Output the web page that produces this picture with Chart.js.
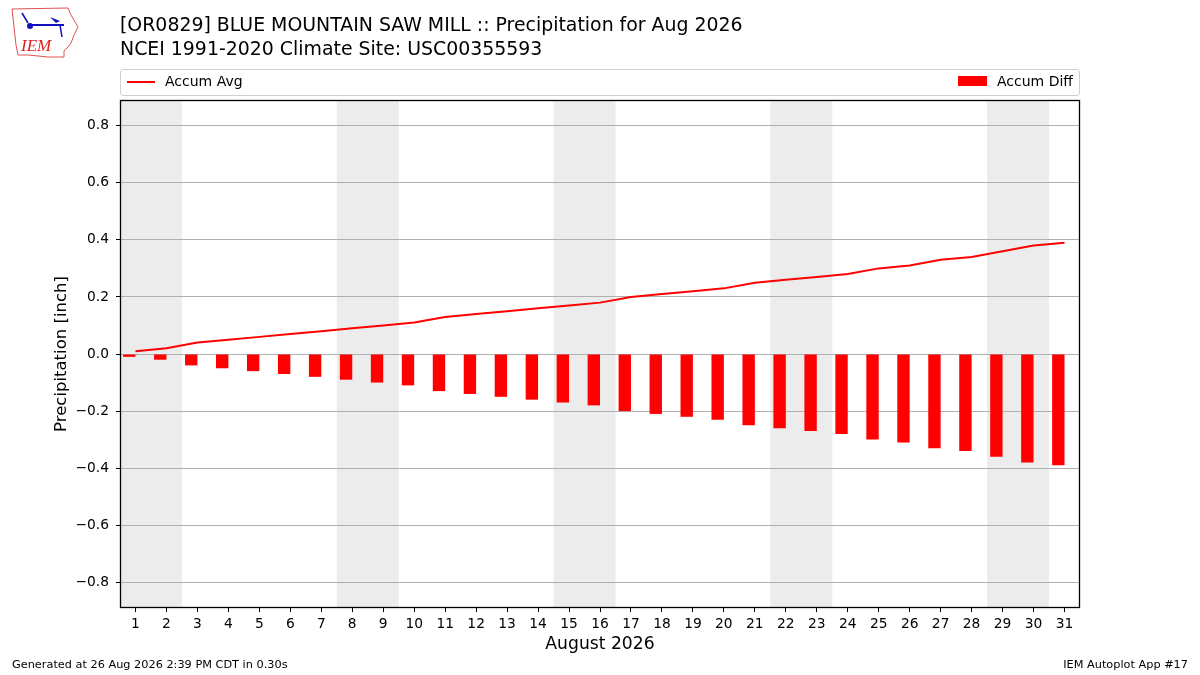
<!DOCTYPE html>
<html>
<head>
<meta charset="utf-8">
<script src="https://cdn.jsdelivr.net/npm/chart.js@4"></script>
<style>
  body { margin: 0; background: #fff; font-family: "DejaVu Sans", sans-serif; }
  #wrap { position: relative; width: 1200px; height: 675px; overflow: hidden; }
  #chart { position: absolute; left: 0; top: 0; }
  .txt { position: absolute; color: #000; white-space: nowrap; }
  #title { left: 120px; top: 12px; font-size: 18.9px; line-height: 24px; }
  #legend { position: absolute; left: 120px; top: 69px; width: 958px; height: 25px;
            border: 1px solid #d0d0d0; border-radius: 3px; font-size: 14px; }
  .foot { font-size: 11.3px; top: 658px; }
</style>
</head>
<body>
<div id="wrap">
  <canvas id="chart" width="1200" height="675"></canvas>
  <svg class="txt" style="left:8px;top:5px" width="72" height="54" viewBox="0 0 72 54">
    <path d="M4 4 L60 3 L63 10 L70 22 L66 30 L63 38 L60 42 L56 46 L56 52 L40 52 L20 50 L10 50 L8 40 L6 22 Z"
          fill="none" stroke="#e05050" stroke-width="1"/>
    <line x1="22" y1="20" x2="56" y2="20" stroke="#1010c0" stroke-width="2"/>
    <circle cx="22" cy="21" r="3" fill="#1010c0"/>
    <path d="M42 12 L52 16 L48 18 Z" fill="#1010c0"/>
    <line x1="52" y1="20" x2="54" y2="32" stroke="#1010c0" stroke-width="1.5"/>
    <path d="M14 8 L20 18" stroke="#1010c0" stroke-width="1.5"/>
    <text x="13" y="46" font-family="Liberation Serif, serif" font-style="italic" font-size="17" fill="#e02020">IEM</text>
  </svg>
  <div id="title" class="txt">[OR0829] BLUE MOUNTAIN SAW MILL :: Precipitation for Aug 2026<br>NCEI 1991-2020 Climate Site: USC00355593</div>
  <div id="legend">
    <div style="position:absolute;left:6px;top:11px;width:28px;height:2px;background:#ff0000"></div>
    <div class="txt" style="left:44px;top:3px">Accum Avg</div>
    <div style="position:absolute;left:837px;top:6px;width:29px;height:10px;background:#ff0000"></div>
    <div class="txt" style="left:876px;top:3px">Accum Diff</div>
  </div>
  <div class="txt foot" style="left:12px">Generated at 26 Aug 2026 2:39 PM CDT in 0.30s</div>
  <div class="txt foot" style="right:12px">IEM Autoplot App #17</div>
</div>
<script>
// days of the month
var days = [];
for (var d = 1; d <= 31; d++) { days.push(d); }
// accumulated climatology average precip (inch)
var accumAvg = [0.01, 0.02, 0.04, 0.05, 0.06, 0.07, 0.08, 0.09, 0.10, 0.11,
                0.13, 0.14, 0.15, 0.16, 0.17, 0.18, 0.20, 0.21, 0.22, 0.23,
                0.25, 0.26, 0.27, 0.28, 0.30, 0.31, 0.33, 0.34, 0.36, 0.38, 0.39];
// accumulated departure (observed - average)
var accumDiff = [-0.01, -0.02, -0.04, -0.05, -0.06, -0.07, -0.08, -0.09, -0.10, -0.11,
                 -0.13, -0.14, -0.15, -0.16, -0.17, -0.18, -0.20, -0.21, -0.22, -0.23,
                 -0.25, -0.26, -0.27, -0.28, -0.30, -0.31, -0.33, -0.34, -0.36, -0.38, -0.39];
// first day of each shaded weekend
var weekendStarts = [1, 8, 15, 22, 29];
var yTicks = [-0.8, -0.6, -0.4, -0.2, 0.0, 0.2, 0.4, 0.6, 0.8];

//shade the weekends and draw the frame
var shadePlugin = {
    id: 'shade',
    beforeDraw: function (chart) {
        var ctx = chart.ctx, a = chart.chartArea, x = chart.scales.x;
        ctx.save();
        ctx.fillStyle = '#ececec';
        for (var i = 0; i < weekendStarts.length; i++) {
            var x0 = Math.max(a.left, x.getPixelForValue(weekendStarts[i] - 0.5));
            var x1 = Math.min(a.right, x.getPixelForValue(weekendStarts[i] + 1.5));
            ctx.fillRect(x0, a.top, x1 - x0, a.bottom - a.top);
        }
        ctx.restore();
    },
    afterDraw: function (chart) {
        var ctx = chart.ctx, a = chart.chartArea;
        ctx.save();
        ctx.strokeStyle = '#000';
        ctx.lineWidth = 1.3;
        ctx.strokeRect(Math.round(a.left) + 0.5, Math.round(a.top) + 0.5,
                       Math.round(a.right - a.left) - 1, Math.round(a.bottom - a.top) - 1);
        ctx.restore();
    }
};

var ctx = document.getElementById('chart').getContext('2d');
new Chart(ctx, {
    type: 'bar',
    data: {
        datasets: [{
            type: 'line',
            label: 'Accum Avg',
            data: days.map(function (d, i) { return { x: d, y: accumAvg[i] }; }),
            borderColor: '#ff0000',
            borderWidth: 2,
            pointRadius: 0,
            tension: 0,
            order: 0
        }, {
            label: 'Accum Diff',
            data: days.map(function (d, i) { return { x: d - 0.2, y: accumDiff[i] }; }),
            backgroundColor: '#ff0000',
            categoryPercentage: 1,
            barPercentage: 0.4,
            order: 1
        }]
    },
    options: {
        responsive: false,
        animation: false,
        layout: { padding: { left: 0, top: 100, right: 120, bottom: 0 } },
        plugins: { legend: { display: false }, tooltip: { enabled: false } },
        scales: {
            x: {
                type: 'linear',
                min: 0.5,
                max: 31.5,
                offset: false,
                afterFit: function (s) { s.height = 67; },
                afterBuildTicks: function (s) { s.ticks = days.map(function (d) { return { value: d }; }); },
                ticks: { color: '#000', font: { family: 'DejaVu Sans', size: 13.8 }, padding: 4, maxRotation: 0, autoSkip: false },
                grid: { drawOnChartArea: false, tickLength: 4, tickColor: '#000', offset: false },
                border: { display: false },
                title: { display: true, text: 'August 2026', color: '#000', font: { family: 'DejaVu Sans', size: 17.2 }, padding: 20 }
            },
            y: {
                min: -0.89,
                max: 0.89,
                afterFit: function (s) { s.width = 120; },
                afterBuildTicks: function (s) { s.ticks = yTicks.map(function (v) { return { value: v }; }); },
                ticks: {
                    color: '#000', font: { family: 'DejaVu Sans', size: 13.8 }, padding: 7,
                    callback: function (v) { return v.toFixed(1).replace('-', '\u2212'); }
                },
                grid: { color: '#b0b0b0', tickLength: 4, tickColor: '#000' },
                border: { display: false },
                title: { display: true, text: 'Precipitation [inch]', color: '#000', font: { family: 'DejaVu Sans', size: 16.5 }, padding: 52 }
            }
        }
    },
    plugins: [shadePlugin]
});
</script>
</body>
</html>
